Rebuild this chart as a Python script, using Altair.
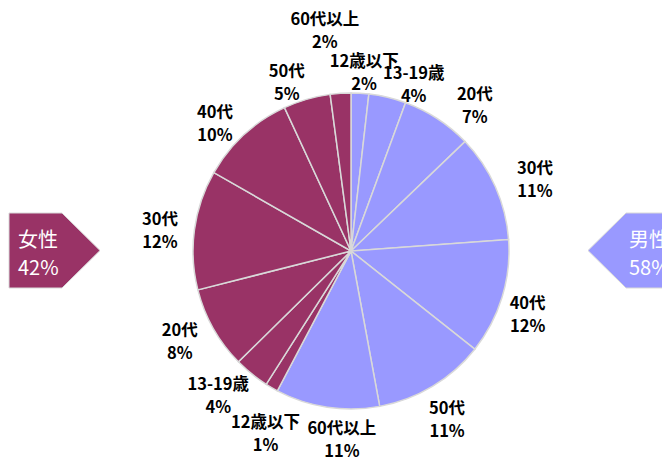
import altair as alt
import pandas as pd

# ---- data ----
genders = ["男性"] * 7 + ["女性"] * 7
ages = ["12歳以下", "13-19歳", "20代", "30代", "40代", "50代", "60代以上"] * 2
values = [1.8, 3.8, 7.2, 11.0, 11.8, 11.4, 10.6,
          1.3, 3.6, 8.4, 12.2, 9.8, 4.8, 2.1]

gender_domain = ["男性", "女性"]
gender_colors = ["#9999ff", "#993366"]

df = pd.DataFrame({"idx": list(range(len(values))), "gender": genders,
                   "age": ages, "value": values})

# ---- layout / style ----
CX, CY = 343, 243
R = 158
FONT = "Noto Sans CJK JP"
EDGE = "#d9d9d9"

# label placement tweaks (Excel-style collision avoidance)
ANG_NUDGE = "[1.0, 7.4, 7.5, 3, 2.9, 1.5, -5.9, -5.1, 3.4, 1.4, -1.8, -4.4, -4.8, -3.0]"
LAB_R = "[178, 177, 190, 197, 188, 195, 190, 202, 197, 194, 192, 186, 179, 221]"

color = alt.Color("gender:N", scale=alt.Scale(domain=gender_domain, range=gender_colors),
                  legend=None)

pie = alt.Chart(df).mark_arc(outerRadius=R, stroke=EDGE, strokeWidth=1.5).encode(
    theta=alt.Theta("value:Q", stack=True),
    order=alt.Order("idx:Q", sort="ascending"),
    color=color,
    x=alt.value(CX), y=alt.value(CY),
)

labels = alt.Chart(df).transform_joinaggregate(
    total="sum(value)"
).transform_window(
    cum="sum(value)", sort=[alt.SortField("idx", order="ascending")], frame=[None, 0]
).transform_calculate(
    mid="(datum.cum - datum.value / 2) / datum.total * 2 * PI",
    lt=f"datum.mid + {ANG_NUDGE}[datum.idx] * PI / 180",
    lr=f"{LAB_R}[datum.idx]",
    label="datum.age + '\\n' + round(datum.value / datum.total * 100) + '%'",
).mark_text(
    font=FONT, fontSize=16.5, fontWeight="bold", color="black",
    lineBreak="\n", lineHeight=23, align="center", baseline="middle", dy=-11.5,
).encode(
    x=alt.value(CX), y=alt.value(CY),
    theta=alt.Theta("lt:Q", scale=None, stack=False),
    radius=alt.Radius("lr:Q", scale=None),
    text="label:N",
)

gender_base = alt.Chart(df).transform_joinaggregate(
    total="sum(value)"
).transform_aggregate(
    gsum="sum(value)", total="max(total)", groupby=["gender"]
).transform_calculate(
    glabel="datum.gender + '\\n' + round(datum.gsum / datum.total * 100) + '%'"
)

LEFT_PATH = "M -1 -0.824 L 0.165 -0.824 L 1 0 L 0.165 0.824 L -1 0.824 Z"
RIGHT_PATH = "M 1 -0.824 L -0.165 -0.824 L -1 0 L -0.165 0.824 L 1 0.824 Z"

left_box = gender_base.transform_filter("datum.gender == '女性'").mark_point(
    shape=LEFT_PATH, size=8281, filled=True, opacity=1, stroke=EDGE, strokeWidth=1
).encode(x=alt.value(46.5), y=alt.value(242.5), color=color)

right_box = gender_base.transform_filter("datum.gender == '男性'").mark_point(
    shape=RIGHT_PATH, size=8281, filled=True, opacity=1, stroke=EDGE, strokeWidth=1
).encode(x=alt.value(625.5), y=alt.value(242.5), color=color)

left_text = gender_base.transform_filter("datum.gender == '女性'").mark_text(
    font=FONT, fontSize=20, color="white", lineBreak="\n", lineHeight=28,
    align="left", baseline="middle", dy=-14
).encode(x=alt.value(10), y=alt.value(247), text="glabel:N")

right_text = gender_base.transform_filter("datum.gender == '男性'").mark_text(
    font=FONT, fontSize=20, color="white", lineBreak="\n", lineHeight=28,
    align="left", baseline="middle", dy=-14
).encode(x=alt.value(621), y=alt.value(247), text="glabel:N")

chart = alt.layer(pie, labels, left_box, right_box, left_text, right_text).properties(
    width=654, height=452, padding=0, background="white",
    autosize=alt.AutoSizeParams(type="none"),
).configure_view(stroke=None)

chart.save("out.html", embed_options={"renderer": "svg", "actions": False})
